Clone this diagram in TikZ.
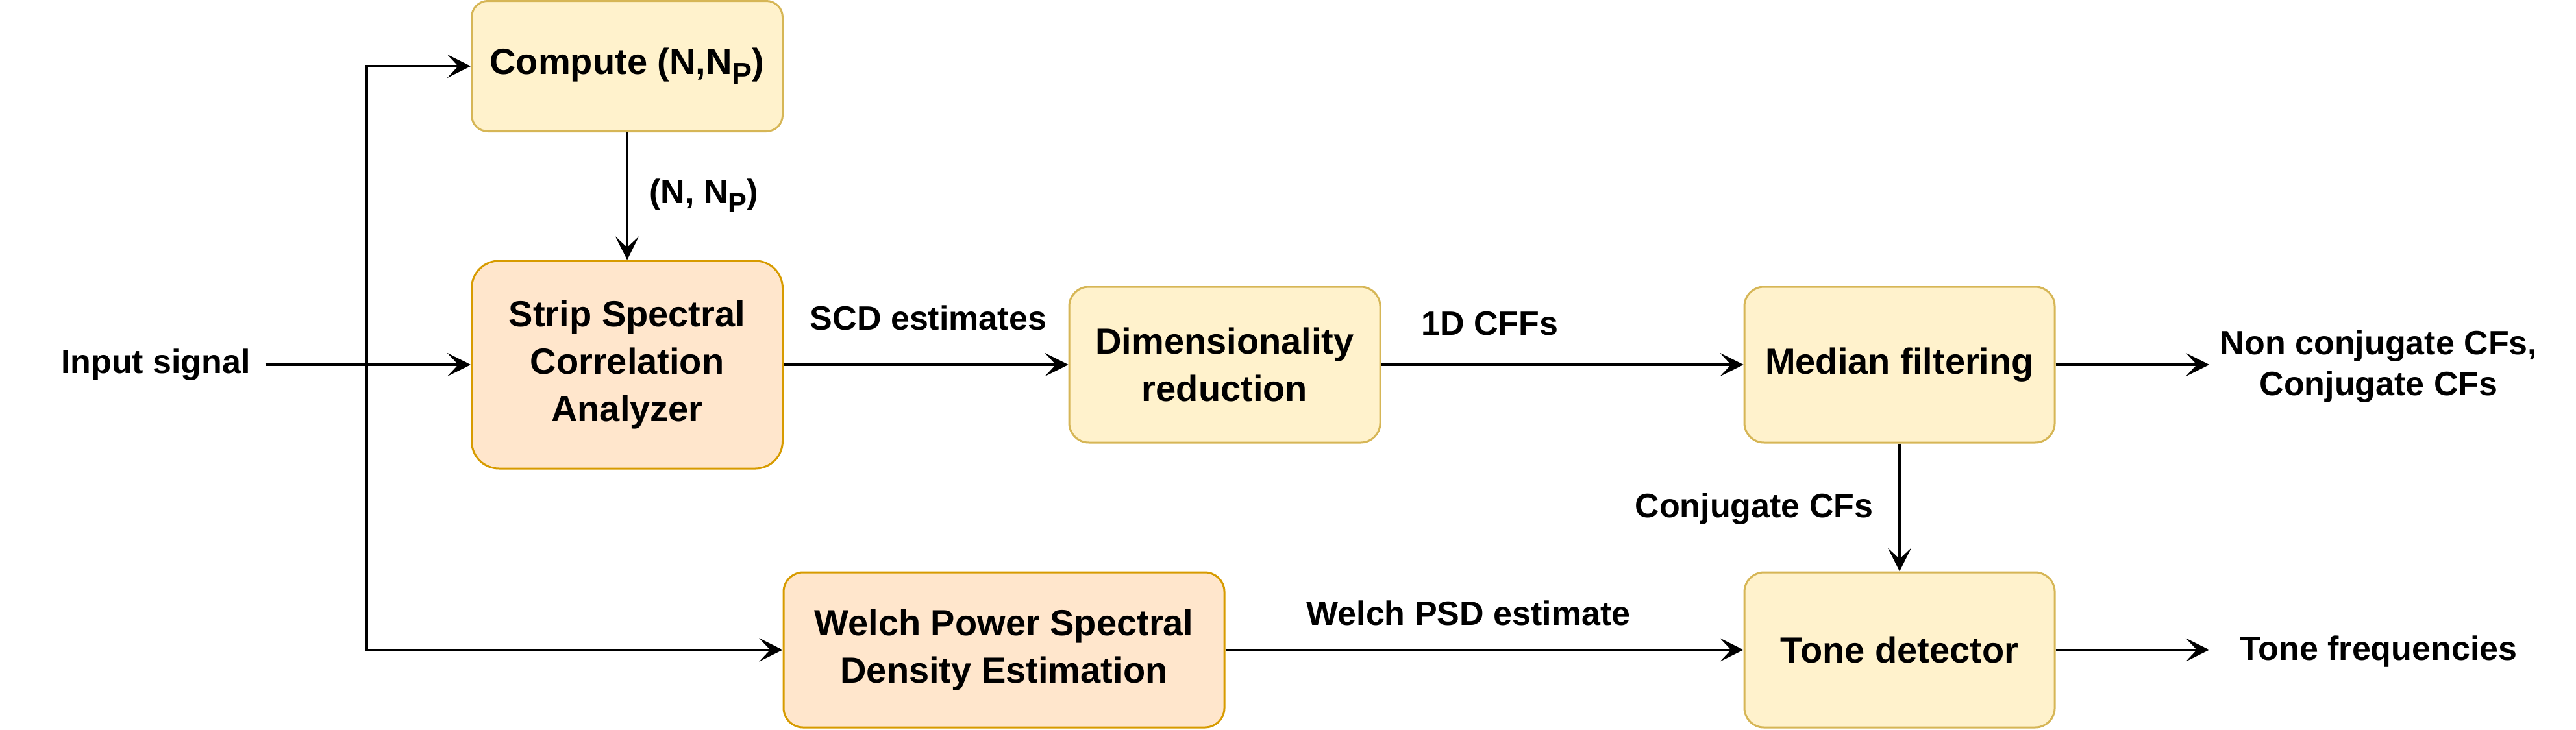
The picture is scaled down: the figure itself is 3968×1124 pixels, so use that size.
\documentclass[tikz,border=0pt]{standalone}
\usepackage{fontspec}
\setmainfont{Liberation Sans}
\usetikzlibrary{arrows.meta}
\definecolor{yfill}{HTML}{FFF2CC}
\definecolor{ydraw}{HTML}{D6B656}
\definecolor{ofill}{HTML}{FFE6CC}
\definecolor{odraw}{HTML}{D79B00}
\newcommand{\mysubP}[1]{\raisebox{-3.75pt}{\fontsize{11.6}{12}\selectfont #1}}
\newcommand{\mysubQ}[1]{\raisebox{-3.5pt}{\fontsize{10.8}{12}\selectfont #1}}
\begin{document}
\begin{tikzpicture}[x=0.25pt,y=-0.25pt,
  box/.style={rectangle, rounded corners=7.5pt, line width=0.75pt, inner sep=0pt, align=center,
    font=\bfseries\fontsize{14}{18.3}\selectfont},
  ybox/.style={box, fill=yfill, draw=ydraw},
  obox/.style={box, fill=ofill, draw=odraw},
  lbl/.style={inner sep=0pt, align=center, font=\bfseries\fontsize{13}{15.75}\selectfont},
  conn/.style={line width=0.85pt, -{Stealth[length=9pt,width=9pt,inset=4.2pt]}},
]
\useasboundingbox (0,0) rectangle (3968,1124);

\node[ybox, minimum width=119.75pt, minimum height=50.25pt, rounded corners=6.25pt] (comp) at (966,102) {Compute (N,N\mysubP{P})};
\node[obox, minimum width=119.75pt, minimum height=80pt, rounded corners=10.5pt] (strip) at (966,562) {Strip Spectral\\Correlation\\Analyzer};
\node[ybox, minimum width=119.75pt, minimum height=60pt] (dim) at (1886.5,562) {Dimensionality\\reduction};
\node[ybox, minimum width=119.5pt, minimum height=60pt] (median) at (2926,562) {Median filtering};
\node[obox, minimum width=169.75pt, minimum height=59.75pt] (welch) at (1546.5,1001.5) {Welch Power Spectral\\Density Estimation};
\node[ybox, minimum width=119.5pt, minimum height=59.75pt] (tone) at (2926,1001.5) {Tone detector};

\node[lbl, inner xsep=5.5pt] (in) at (240,562) {Input signal};
\coordinate (br) at (565,562);
\coordinate (o1) at (3403,562);
\coordinate (o2) at (3403,1001.5);

\draw[conn] (in.east) -- (strip.west);
\draw[conn] (br) |- (comp.west);
\draw[conn] (br) |- (welch.west);
\draw[conn] (comp) -- (strip);
\draw[conn] (strip) -- (dim);
\draw[conn] (dim) -- (median);
\draw[conn] (median) -- (tone);
\draw[conn] (welch) -- (tone);
\draw[conn] (median.east) -- (o1);
\draw[conn] (tone.east) -- (o2);

\node[lbl] (lnp) at (1084,302) {(N, N\mysubQ{P})};
\node[lbl] (lscd) at (1430,490) {SCD estimates};
\node[lbl] (lcff) at (2295,499) {1D CFFs};
\node[lbl] (lconj) at (2702,784) {Conjugate CFs};
\node[lbl] (lpsd) at (2262,945) {Welch PSD estimate};
\node[lbl] (lout1) at (3664,565) {Non conjugate CFs,\\Conjugate CFs};
\node[lbl] (lout2) at (3664,1004) {Tone frequencies};
\end{tikzpicture}
\end{document}
